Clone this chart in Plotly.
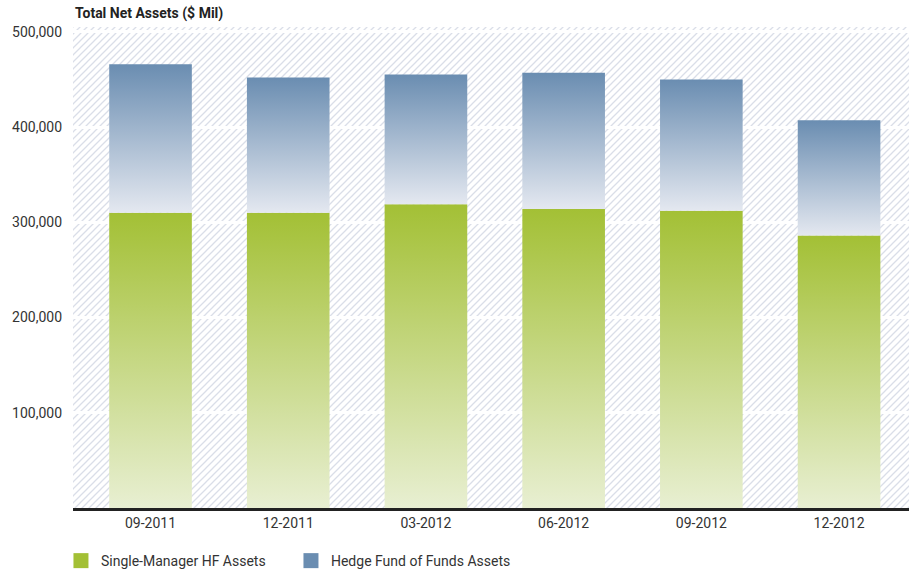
import base64
import plotly.graph_objects as go

# Total net assets, $ millions
periods = ["09-2011", "12-2011", "03-2012", "06-2012", "09-2012", "12-2012"]
single_manager = [310000, 310000, 319000, 314000, 312000, 286000]
fund_of_funds = [156000, 142000, 136000, 143000, 138000, 121000]
y_ticks = [100000, 200000, 300000, 400000, 500000]
series_names = ["Single-Manager HF Assets", "Hedge Fund of Funds Assets"]

FONT = "Liberation Sans Narrow, Roboto, Arial, sans-serif"
GREEN_TOP, GREEN_BOTTOM = "#a3c035", "#e8efd2"
BLUE_TOP, BLUE_BOTTOM = "#6a8db1", "#e4e8f0"
BAR_W = 0.6

x_pos = list(range(len(periods)))

fig = go.Figure()

# Stacked bars hold the values (hover); their fill comes from the gradient overlays
fig.add_trace(go.Bar(x=x_pos, y=single_manager, width=BAR_W, name=series_names[0],
                     marker=dict(color="rgba(0,0,0,0)", line=dict(width=0)), showlegend=False))
fig.add_trace(go.Bar(x=x_pos, y=fund_of_funds, width=BAR_W, name=series_names[1],
                     marker=dict(color="rgba(0,0,0,0)", line=dict(width=0)), showlegend=False))


def gradient_block(xc, y0, y1, bottom, top):
    half = BAR_W / 2
    return go.Scatter(
        x=[xc - half, xc + half, xc + half, xc - half, xc - half],
        y=[y0, y0, y1, y1, y0],
        mode="lines", fill="toself", line=dict(width=0),
        fillgradient=dict(type="vertical", colorscale=[[0, bottom], [1, top]],
                          start=y0, stop=y1),
        hoverinfo="skip", showlegend=False,
    )


# Vertical gradient fill on each bar segment
for xc, sm, fof in zip(x_pos, single_manager, fund_of_funds):
    fig.add_trace(gradient_block(xc, 0, sm, GREEN_BOTTOM, GREEN_TOP))
    fig.add_trace(gradient_block(xc, sm, sm + fof, BLUE_BOTTOM, BLUE_TOP))

# Legend swatches
for name, color in zip(series_names, [GREEN_TOP, BLUE_TOP]):
    fig.add_trace(go.Scatter(x=[None], y=[None], mode="markers", name=name,
                             marker=dict(symbol="square", size=15, color=color)))

# Diagonal hatch for the plotting background
hatch_svg = (
    '<svg xmlns="http://www.w3.org/2000/svg" width="836" height="481" '
    'preserveAspectRatio="none">'
    '<defs><pattern id="h" width="7" height="7" patternUnits="userSpaceOnUse">'
    '<path d="M-1,1 L1,-1 M0,7 L7,0 M6,8 L8,6" stroke="#dadee8" stroke-width="1.3"/>'
    '</pattern></defs>'
    '<rect width="100%" height="100%" fill="url(#h)"/></svg>'
)
hatch_uri = "data:image/svg+xml;base64," + base64.b64encode(hatch_svg.encode()).decode()

fig.update_layout(
    width=918, height=571,
    margin=dict(l=73, r=9, t=27, b=63, autoexpand=False),
    barmode="stack",
    paper_bgcolor="white", plot_bgcolor="white",
    font=dict(family=FONT, size=14, color="#333333"),
    images=[dict(source=hatch_uri, xref="paper", yref="paper", x=0, y=1,
                 sizex=1, sizey=1, xanchor="left", yanchor="top",
                 sizing="stretch", layer="below")],
    xaxis=dict(
        range=[-0.563, 5.508], tickvals=x_pos, ticktext=periods,
        showgrid=False, zeroline=False, showline=True, linecolor="#222222",
        linewidth=3, ticks="", tickfont=dict(size=14, color="#333333"),
    ),
    yaxis=dict(
        range=[0, 505000], tickvals=y_ticks, tickformat=",",
        showgrid=True, gridcolor="white", gridwidth=3, zeroline=False,
        showline=False, ticks="", ticklabelstandoff=10,
        tickfont=dict(size=14, color="#333333"),
    ),
    legend=dict(orientation="h", x=-0.0144, xanchor="left",
                y=-0.077, yanchor="top", bgcolor="rgba(0,0,0,0)",
                entrywidth=185, entrywidthmode="pixels",
                font=dict(size=14, color="#333333"), traceorder="normal"),
    annotations=[dict(text="<b>Total Net Assets ($ Mil)</b>", xref="paper", yref="paper",
                      x=0, y=1, xanchor="left", yanchor="bottom", yshift=3,
                      showarrow=False, font=dict(family=FONT, size=14, color="#222222"))],
    showlegend=True,
)

fig.write_html("out.html")
